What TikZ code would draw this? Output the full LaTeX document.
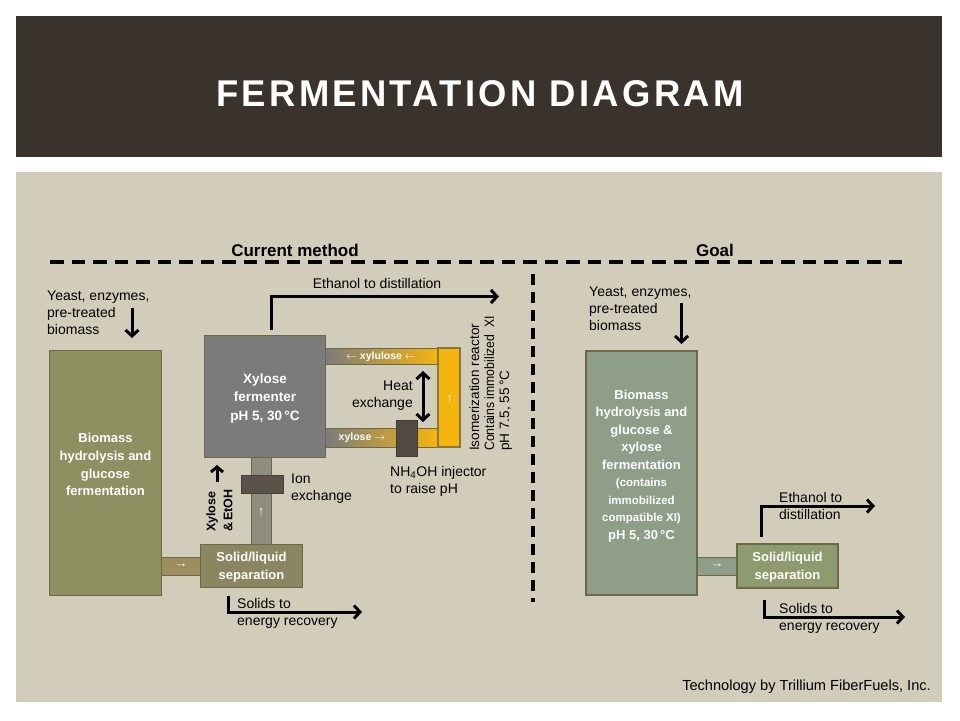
\documentclass[tikz,border=0pt]{standalone}
\usepackage{graphicx}
\usepackage{fontspec}
\setmainfont{Liberation Sans}
\newfontfamily\titlefont[LetterSpace=9]{Liberation Sans}
\usetikzlibrary{arrows.meta}
\definecolor{titlebg}{HTML}{3A322D}
\definecolor{panel}{HTML}{D2CCBB}
\definecolor{olive}{HTML}{8E9062}
\definecolor{sepL}{HTML}{8B8662}
\definecolor{tanpipe}{HTML}{9E8D5D}
\definecolor{greypipe}{HTML}{8F8D80}
\definecolor{ionblk}{HTML}{5B5249}
\definecolor{ferm}{HTML}{7B7B7B}
\definecolor{gold}{HTML}{F5B50F}
\definecolor{inj}{HTML}{504A40}
\definecolor{sage}{HTML}{8E9E88}
\definecolor{sepR}{HTML}{8E9B6F}
\definecolor{bordc}{HTML}{6F6846}
\begin{document}
\begin{tikzpicture}[x=1pt,y=-1pt,
  box/.style={draw=bordc,line width=1.5pt,inner sep=0pt},
  pipe/.style={draw=bordc,line width=1pt},
  wtxt/.style={text=white,font=\bfseries\fontsize{13}{17.7}\selectfont,align=center,inner sep=0pt},
  ptxt/.style={text=white,font=\bfseries\fontsize{10.5}{12}\selectfont,inner sep=0pt},
  lbl/.style={font=\fontsize{14}{17}\selectfont,align=left,inner sep=0pt},
  head/.style={font=\bfseries\fontsize{17}{20}\selectfont,inner sep=0pt},
  flow/.style={line width=3pt,-{Straight Barb[length=6pt,width=13pt]}},
  hdash/.style={line width=3.5pt,dash pattern=on 13.5pt off 8pt},
  vdash/.style={line width=3.5pt,dash pattern=on 11pt off 7pt}]
\useasboundingbox (0,0) rectangle (960,720);
\fill[white] (0,0) rectangle (960,720);
% title band and panel
\fill[titlebg] (16,16) rectangle (942,157);
\node[text=white,inner sep=0pt] (title) at (480,94) {\resizebox{527pt}{26pt}{\titlefont\bfseries FERMENTATION DIAGRAM}};
\fill[panel] (16,172) rectangle (942,702);
% headings and dashed separators
\node[head] (hcur) at (295,250) {Current method};
\node[head] (hgoal) at (715,250) {Goal};
\coordinate (hd0) at (50,262);
\coordinate (hd1) at (904,262);
\draw[hdash] (hd0) -- (hd1);
\coordinate (vd0) at (533,274);
\coordinate (vd1) at (533,602);
\draw[vdash] (vd0) -- (vd1);

% ---------------- Current method ----------------
% pipes
\fill[tanpipe,pipe] (161,557) rectangle (200,575);
\fill[greypipe,pipe] (251,457) rectangle (271,545);
\shade[left color=ferm,right color=gold,pipe] (325,348) rectangle (438,364);
\shade[left color=ferm,right color=gold,pipe] (325,428) rectangle (438,447);
% boxes
\node[box,fill=olive,minimum width=112pt,minimum height=245pt] (bioL) at (105.5,473) {};
\node[box,fill=sepL,minimum width=102pt,minimum height=43pt] (sepl) at (251.5,566) {};
\node[box,fill=ferm,minimum width=121pt,minimum height=122pt] (fer) at (265,396.5) {};
\node[box,fill=gold,draw=bordc!80!gold,minimum width=22pt,minimum height=99pt] (iso) at (449,397.5) {};
\node[fill=ionblk,draw=ionblk!80!black,line width=0.8pt,minimum width=42pt,minimum height=18pt,inner sep=0pt] (ion) at (262,484) {};
\node[fill=inj,draw=inj!80!black,line width=0.8pt,minimum width=21pt,minimum height=36pt,inner sep=0pt] (injb) at (406.5,438.5) {};
% box texts
\node[wtxt] (bioLt) at (105.5,464.5) {Biomass\\hydrolysis and\\glucose\\fermentation};
\node[wtxt] (seplt) at (251.5,567) {Solid/liquid\\separation};
\node[wtxt,font=\bfseries\fontsize{13.5}{18.3}\selectfont] (fert) at (265,398.5) {Xylose\\fermenter\\pH 5, 30\,°C};
\node[ptxt] (xylu) at (381,357) {$\leftarrow$ xylulose $\leftarrow$};
\node[ptxt] (xylo) at (362,438) {xylose $\rightarrow$};
\node[ptxt,font=\fontsize{13}{13}\selectfont] (a1) at (181,566) {→};
\node[ptxt,font=\fontsize{13}{13}\selectfont] (a2) at (261,512) {↑};
\node[ptxt,font=\fontsize{13}{13}\selectfont] (a3) at (449.5,399) {↑};
% labels
\node[lbl,anchor=west] (yeastL) at (47,313) {Yeast, enzymes,\\pre-treated\\biomass};
\node[lbl,anchor=center] (ethL) at (377,283.5) {Ethanol to distillation};
\node[lbl,align=right,anchor=east] (heat) at (413,396) {Heat\\exchange};
\node[lbl,anchor=west] (nh4) at (390,481.5) {NH\textsubscript{4}OH injector\\to raise pH};
\node[lbl,anchor=west] (ionl) at (291,489) {Ion\\exchange};
\node[lbl,anchor=west] (solL) at (237,613.5) {Solids to\\energy recovery};
\node[lbl,font=\fontsize{13.6}{15}\selectfont,rotate=90,anchor=west] (isol) at (490.5,451) {Isomerization reactor\\\scalebox{0.9}[1]{Contains immobilized\ \ XI}\\pH 7.5,\ 55\,°C};
\node[lbl,font=\bfseries\fontsize{12.5}{17}\selectfont,rotate=90,anchor=west] (xyet) at (219.5,532) {Xylose\\\&\,EtOH};
% arrows
\coordinate (yl0) at (132,308);
\coordinate (yl1) at (132,338);
\draw[flow] (yl0) -- (yl1);
\coordinate (el0) at (271.5,330);
\coordinate (el1) at (271.5,296.5);
\coordinate (el2) at (499,296.5);
\draw[flow] (el0) -- (el1) -- (el2);
\coordinate (xe0) at (217,482);
\coordinate (xe1) at (217,465);
\draw[flow,-{Straight Barb[length=5pt,width=12pt]}] (xe0) -- (xe1);
\coordinate (he0) at (423,371);
\coordinate (he1) at (423,422);
\draw[line width=3pt,{Straight Barb[length=6pt,width=13pt]}-{Straight Barb[length=6pt,width=13pt]}] (he0) -- (he1);
\coordinate (sl0) at (228.5,596);
\coordinate (sl1) at (228.5,612);
\coordinate (sl2) at (362,612);
\draw[flow] (sl0) -- (sl1) -- (sl2);

% ---------------- Goal ----------------
\fill[sage,pipe] (697,557) rectangle (737,575);
\node[box,fill=sage,minimum width=111pt,minimum height=244pt] (bioR) at (641.5,473) {};
\node[box,fill=sepR,minimum width=101pt,minimum height=44pt] (sepr) at (787.5,566) {};
\node[wtxt,font=\bfseries\fontsize{13}{17.5}\selectfont] (bioRt) at (641.5,466) {Biomass\\hydrolysis and\\glucose \&\\xylose\\fermentation\\{\fontsize{11.5}{17.5}\selectfont (contains}\\{\fontsize{11.5}{17.5}\selectfont immobilized}\\{\fontsize{11.5}{17.5}\selectfont compatible XI)}\\pH 5, 30\,°C};
\node[wtxt] (seprt) at (787.5,567) {Solid/liquid\\separation};
\node[ptxt,font=\fontsize{13}{13}\selectfont] (a4) at (717,566) {→};
\node[lbl,anchor=west] (yeastR) at (589,309) {Yeast, enzymes,\\pre-treated\\biomass};
\node[lbl,anchor=west] (ethR) at (779,506) {Ethanol to\\distillation};
\node[lbl,anchor=west] (solR) at (779,618.5) {Solids to\\energy recovery};
\coordinate (yr0) at (681.5,303);
\coordinate (yr1) at (681.5,344);
\draw[flow] (yr0) -- (yr1);
\coordinate (er0) at (761,537);
\coordinate (er1) at (761,506);
\coordinate (er2) at (875,506);
\draw[flow] (er0) -- (er1) -- (er2);
\coordinate (sr0) at (764,600);
\coordinate (sr1) at (764,617);
\coordinate (sr2) at (905,617);
\draw[flow] (sr0) -- (sr1) -- (sr2);
\node[lbl,font=\fontsize{14.6}{17}\selectfont,anchor=east] (credit) at (931,687) {Technology by Trillium FiberFuels,\ Inc.};
\end{tikzpicture}
\end{document}
